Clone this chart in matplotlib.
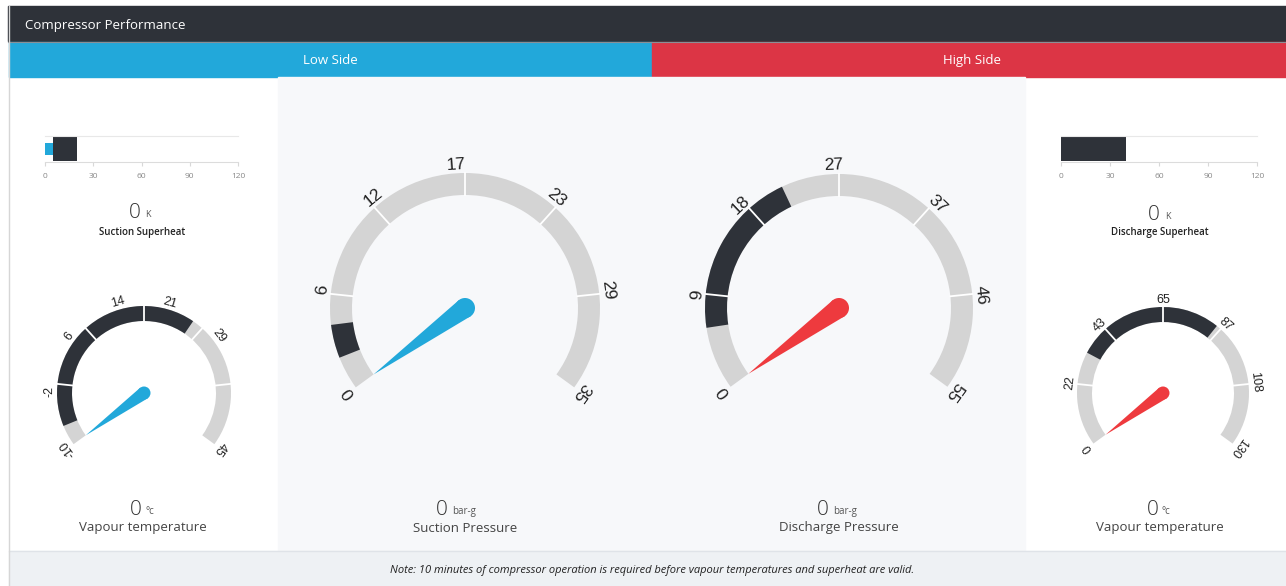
import numpy as np
import matplotlib
matplotlib.use("Agg")
import matplotlib.pyplot as plt
from matplotlib.patches import Wedge, Rectangle, Circle, Polygon

# Pixelgroesse der Vorlage
W, H = 1286, 586

# Daten: Superheat-Balken
bar_ticks = [0, 30, 60, 90, 120]
suction_sh_blue = 5
suction_sh_dark = (5, 20)
discharge_sh_dark = (0, 40)

# Daten: Skalen der Rundinstrumente (Min, Max, Beschriftungen, dunkler Bereich, Zeigerstellung)
lvt_range = (-10, 45)
lvt_ticks = [-10, -2, 6, 14, 21, 29, 45]
lvt_band = (-7, 25)
lvt_needle = -10

sp_range = (0, 35)
sp_ticks = [0, 6, 12, 17, 23, 29, 35]
sp_band = (2, 4)
sp_needle = 0

dp_range = (0, 55)
dp_ticks = [0, 9, 18, 27, 37, 46, 55]
dp_band = (6, 22)
dp_needle = 0

hvt_range = (0, 130)
hvt_ticks = [0, 22, 43, 65, 87, 108, 130]
hvt_band = (33, 85)
hvt_needle = 0

# Anzeigen unter den Instrumenten
readout_values = [0, 0, 0, 0, 0, 0]
readout_units = ["K", "K", "°c", "bar-g", "bar-g", "°c"]
readout_names = ["Suction Superheat", "Discharge Superheat", "Vapour temperature",
                 "Suction Pressure", "Discharge Pressure", "Vapour temperature"]

# Farben
DARK = "#2e3239"
GREY = "#d4d4d4"
BLUE = "#22a8da"
RED = "#dc3545"
NEEDLE_RED = "#ee3a3e"
LIGHT = "#f7f8fa"

plt.rcParams["font.family"] = ["Open Sans", "DejaVu Sans"]

fig = plt.figure(figsize=(W / 100, H / 100), dpi=100)
fig.patch.set_facecolor("white")

# Hintergrund-Achse in Pixelkoordinaten (y nach unten)
bg = fig.add_axes([0, 0, 1, 1])
bg.set_xlim(0, W)
bg.set_ylim(H, 0)
bg.axis("off")

# Panels
bg.add_patch(Rectangle((8, 6), W - 8, 35, color=DARK))
bg.plot([8, W], [41.5, 41.5], color="#8a8f96", lw=0.8)
bg.add_patch(Rectangle((9, 42), 643, 35, color=BLUE))
bg.add_patch(Rectangle((652, 42), W - 652, 35, color=RED))
bg.add_patch(Rectangle((278, 77), 747, 474, color=LIGHT))
bg.add_patch(Rectangle((9, 551), W - 9, 35, color="#eef1f4"))
bg.plot([9, W], [551, 551], color="#dfe3e8", lw=1)
bg.plot([8.5, 8.5], [6, H], color="#d6d6d6", lw=1)

bg.text(25, 25.5, "Compressor Performance", color="white", fontsize=9.5, va="center")
bg.text(330, 60.5, "Low Side", color="white", fontsize=9.5, ha="center", va="center")
bg.text(972, 60.5, "High Side", color="white", fontsize=9.5, ha="center", va="center")
bg.text(652, 570, "Note: 10 minutes of compressor operation is required before vapour "
        "temperatures and superheat are valid.", fontsize=8, style="italic",
        ha="center", va="center", color="#222222")


def gauge(cx, cy, r, w, rng, ticks, band, needle, ncol, fs, hub, pad):
    lo, hi = rng
    start, sweep = 216.0, 252.0

    def ang(v):
        return start - (v - lo) / (hi - lo) * sweep

    # y-Achse ist invertiert -> Winkel spiegeln
    bg.add_patch(Wedge((cx, cy), r, -start, -(start - sweep), width=w, color=GREY, lw=0))
    bg.add_patch(Wedge((cx, cy), r, -ang(band[0]), -ang(band[1]), width=w, color=DARK, lw=0))
    for k in range(1, 6):
        a = np.radians(start - k * sweep / 6)
        bg.plot([cx + (r - w) * np.cos(a), cx + r * np.cos(a)],
                [cy - (r - w) * np.sin(a), cy - r * np.sin(a)], color="white", lw=1.3)
    for t in ticks:
        a = ang(t)
        rr = r + pad
        bg.text(cx + rr * np.cos(np.radians(a)), cy - rr * np.sin(np.radians(a)), str(t),
                rotation=a - 90, rotation_mode="anchor", ha="center", va="bottom",
                fontsize=fs, family=["Liberation Sans", "DejaVu Sans"], color="#222222")
    # Zeiger
    a = np.radians(ang(needle))
    tip = (cx + (r - w) * np.cos(a), cy - (r - w) * np.sin(a))
    px, py = np.sin(a) * hub, np.cos(a) * hub
    bg.add_patch(Polygon([tip, (cx + px, cy + py), (cx - px, cy - py)], color=ncol, lw=0))
    bg.add_patch(Circle((cx, cy), hub, color=ncol, lw=0))


gauge(144, 393, 87, 15, lvt_range, lvt_ticks, lvt_band, lvt_needle, BLUE, 9, 6.5, 1)
gauge(465, 308, 135, 22, sp_range, sp_ticks, sp_band, sp_needle, BLUE, 12.5, 10, 1)
gauge(839, 308, 134, 22, dp_range, dp_ticks, dp_band, dp_needle, NEEDLE_RED, 12.5, 10, 1)
gauge(1163, 393, 86, 15, hvt_range, hvt_ticks, hvt_band, hvt_needle, NEEDLE_RED, 9, 6.5, 1)


# Superheat-Balken
def bar_axes(x0, x1):
    ax = fig.add_axes([x0 / W, 1 - 162 / H, (x1 - x0) / W, 26 / H])
    ax.set_facecolor("none")
    ax.set_xlim(bar_ticks[0], bar_ticks[-1])
    ax.set_ylim(-0.5, 0.5)
    ax.set_xticks(bar_ticks)
    ax.set_yticks([])
    for s in ["left", "right"]:
        ax.spines[s].set_visible(False)
    ax.spines["top"].set_color("#e8e8e8")
    ax.spines["bottom"].set_color("#dcdcdc")
    ax.spines["top"].set_linewidth(0.8)
    ax.spines["bottom"].set_linewidth(0.8)
    ax.tick_params(axis="x", length=3, color="#d8d8d8", labelsize=6,
                   labelcolor="#888888", pad=5)
    return ax


ax1 = bar_axes(45, 238)
ax1.barh(0, suction_sh_blue, left=0, height=0.46, color=BLUE)
ax1.barh(0, suction_sh_dark[1] - suction_sh_dark[0], left=suction_sh_dark[0],
         height=0.96, color=DARK)

ax2 = bar_axes(1061, 1257)
ax2.barh(0, discharge_sh_dark[1] - discharge_sh_dark[0], left=discharge_sh_dark[0],
         height=0.96, color=DARK)

# Messwerte und Beschriftungen
value_x = [135, 1154, 136, 442, 823, 1153]
unit_x = [145, 1165, 145, 452, 833, 1162]
value_y = [218, 220, 515, 515, 515, 515]
name_x = [142, 1160, 143, 465, 839, 1160]
name_y = [232, 232, 527, 528, 528, 527]
for i in range(6):
    bg.text(value_x[i], value_y[i], str(readout_values[i]), fontsize=15, ha="center",
            va="baseline", color="#333333", fontweight="light")
    bg.text(unit_x[i], value_y[i] - 1, readout_units[i], fontsize=6.5 if i < 2 else 7,
            ha="left", va="baseline", color="#555555")
    if i < 2:
        bg.text(name_x[i], name_y[i], readout_names[i], fontsize=7, ha="center",
                va="center", color="#222222", fontweight="semibold")
    else:
        bg.text(name_x[i], name_y[i], readout_names[i], fontsize=9.5, ha="center",
                va="center", color="#444444")

fig.savefig("out.png", dpi=100, facecolor=fig.get_facecolor())
